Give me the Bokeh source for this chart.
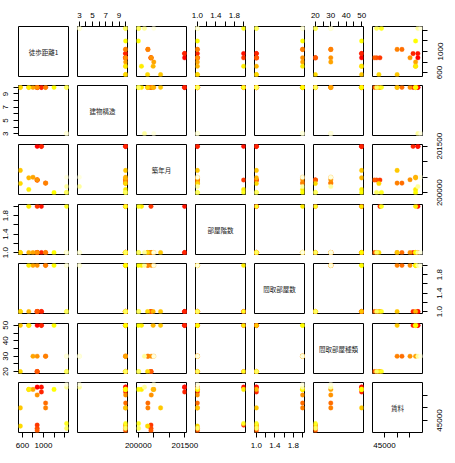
from bokeh.plotting import figure
from bokeh.layouts import gridplot, row, column
from bokeh.models import Range1d, LinearAxis, FixedTicker, PrintfTickFormatter, ColumnDataSource
from bokeh.core.properties import value
from bokeh.core.validation import silence
from bokeh.core.validation.warnings import MISSING_RENDERERS
from bokeh.embed import file_html
from bokeh.resources import INLINE

silence(MISSING_RENDERERS, True)

names = ["徒歩距離1", "建物構造", "築年月", "部屋階数", "間取部屋数", "間取部屋種類", "賃料"]

walk = [880, 960, 960, 880, 880, 880, 1040, 1040, 880, 800, 720, 560, 560, 720, 1200, 1440, 1440, 1440, 1440]
struct = [10, 10, 10, 10, 10, 10, 10, 10, 10, 10, 10, 10, 10, 10, 10, 10, 10, 3, 3]
built = [201495, 201495, 201495, 200410, 200410, 200410, 200310, 200310, 200420, 200500, 200480, 200720,
         200300, 200103, 200003, 200010, 200010, 200200, 200500]
floor_ = [1, 2, 1, 2, 1, 1, 1, 1, 1, 1, 1, 1, 1, 2, 1, 2, 1, 1, 1]
rooms = [1, 1, 1, 1, 1, 1, 2, 2, 2, 2, 1, 1, 1, 2, 2, 1, 1, 2, 2]
rtype = [50, 50, 50, 20, 20, 20, 30, 30, 30, 30, 50, 50, 20, 50, 50, 20, 20, 30, 30]
rent = [58200, 58200, 56300, 43200, 41900, 41000, 51900, 50000, 55100, 57300, 57300, 50000,
        42800, 57300, 57300, 43800, 41900, 58200, 59300]
colors = ["#FF0000", "#FF1200", "#FF2400", "#FF3700", "#FF4900", "#FF5B00", "#FF6D00", "#FF8000",
          "#FF9200", "#FFA400", "#FFB600", "#FFC800", "#FFDB00", "#FFED00", "#FFFF00", "#FFFF20",
          "#FFFF60", "#FFFF9F", "#FFFFDF"]

cols = [walk, struct, built, floor_, rooms, rtype, rent]

major_ticks = [[600, 1000], [3, 5, 7, 9], [200000, 201500], [1.0, 1.4, 1.8], [1.0, 1.4, 1.8],
               [20, 30, 40, 50], [45000]]
minor_ticks = [[800, 1200, 1400], [4, 6, 8, 10], [200500, 201000], [1.2, 1.6, 2.0], [1.2, 1.6, 2.0],
               [25, 35, 45], [50000, 55000]]
tick_formats = ["%d", "%d", "%d", "%.1f", "%.1f", "%d", "%d"]

n = len(names)
FRAME = 50
TICK = 5
FONT = "Liberation Sans"
FSIZE = "8px"

# main grid borders
row_top = [6, 1, 1, 1, 1, 1, 1]
row_bot = [8, 8, 9, 8, 9, 8, 6]
col_left = [6, 1, 1, 1, 1, 1, 1]
col_right = [8, 8, 8, 8, 8, 8, 6]


def rng(v):
    lo, hi = min(v), max(v)
    pad = 0.04 * (hi - lo)
    return lo - pad, hi + pad


def base_fig(w, h, xr, yr, bl, br, bt, bb):
    p = figure(width=w, height=h, x_range=xr, y_range=yr,
               output_backend="svg", toolbar_location=None,
               x_axis_location=None, y_axis_location=None,
               min_border_left=bl, min_border_right=br,
               min_border_top=bt, min_border_bottom=bb)
    p.grid.visible = False
    return p


def tick_axis(k):
    # tick marks only: the labels are drawn by the label strips around the grid
    ax = LinearAxis(ticker=FixedTicker(ticks=major_ticks[k], minor_ticks=minor_ticks[k]),
                    formatter=PrintfTickFormatter(format=tick_formats[k]))
    ax.axis_line_color = None
    ax.major_tick_in = 0
    ax.major_tick_out = TICK
    ax.minor_tick_in = 0
    ax.minor_tick_out = TICK
    ax.major_tick_line_color = "black"
    ax.minor_tick_line_color = "black"
    ax.major_label_text_color = None
    ax.major_label_text_font_size = "0px"
    ax.major_label_standoff = 0
    return ax


def label_strip(k, side, w, h, bl, br, bt, bb, standoff):
    lo, hi = rng(cols[k])
    if side == "left":
        xr, yr = Range1d(0, 1), Range1d(lo, hi)
    else:
        xr, yr = Range1d(lo, hi), Range1d(0, 1)
    p = base_fig(w, h, xr, yr, bl, br, bt, bb)
    p.outline_line_color = None
    p.background_fill_color = None
    p.border_fill_color = None
    ax = LinearAxis(ticker=FixedTicker(ticks=major_ticks[k], minor_ticks=[]),
                    formatter=PrintfTickFormatter(format=tick_formats[k]))
    ax.axis_line_color = None
    ax.major_tick_in = 0
    ax.major_tick_out = 0
    ax.minor_tick_in = 0
    ax.minor_tick_out = 0
    ax.major_label_text_font = FONT
    ax.major_label_text_font_size = FSIZE
    ax.major_label_text_color = "black"
    ax.major_label_standoff = standoff
    if side == "left":
        ax.major_label_orientation = "parallel"
    p.add_layout(ax, side)
    return p


src = ColumnDataSource(dict(walk=walk, struct=struct, built=built, floor_=floor_, rooms=rooms,
                            rtype=rtype, rent=rent, color=colors))
keys = ["walk", "struct", "built", "floor_", "rooms", "rtype", "rent"]

grid_rows = []
for i in range(n):
    r = []
    for j in range(n):
        xl, xh = rng(cols[j])
        yl, yh = rng(cols[i])
        p = base_fig(col_left[j] + FRAME + col_right[j], row_top[i] + FRAME + row_bot[i],
                     Range1d(xl, xh), Range1d(yl, yh),
                     col_left[j], col_right[j], row_top[i], row_bot[i])
        p.outline_line_color = "black"
        p.outline_line_width = 1
        p.background_fill_color = "white"
        p.border_fill_color = None
        if i == j:
            p.text(x=[(xl + xh) / 2], y=[(yl + yh) / 2], text=[names[i]],
                   text_align="center", text_baseline="middle",
                   text_font=value("Noto Sans CJK JP"), text_font_size="6.5px",
                   text_color="#222222")
        else:
            p.scatter(x=keys[j], y=keys[i], source=src, marker="circle", size=4.6,
                      fill_color="color", line_color="color", line_width=0.3)
        if i == 0 and j % 2 == 1:
            p.add_layout(tick_axis(j), "above")
        if i == n - 1 and j % 2 == 0:
            p.add_layout(tick_axis(j), "below")
        if j == 0 and i % 2 == 1:
            p.add_layout(tick_axis(i), "left")
        if j == n - 1 and i % 2 == 0:
            p.add_layout(tick_axis(i), "right")
        r.append(p)
    grid_rows.append(r)

grid = gridplot(grid_rows, toolbar_location=None)

# label strips: tick labels centred on the ticks of the outer panels
top_strip = row(
    label_strip(1, "above", 160, 20, 77, 33, 19, 0, 2),
    label_strip(3, "above", 120, 20, 35, 35, 19, 0, 2),
    label_strip(5, "above", 168, 20, 33, 85, 19, 0, 2),
)
bottom_strip = row(
    label_strip(0, "below", 100, 15, 18, 32, 0, 14, 3),
    label_strip(2, "below", 120, 15, 36, 34, 0, 14, 3),
    label_strip(4, "below", 120, 15, 34, 36, 0, 14, 3),
    label_strip(6, "below", 108, 15, 32, 26, 0, 14, 3),
)
left_strip = column(
    label_strip(1, "left", 12, 150, 11, 0, 65, 35, 3),
    label_strip(3, "left", 12, 120, 11, 0, 34, 36, 3),
    label_strip(5, "left", 12, 148, 11, 0, 33, 65, 3),
)
right_strip = column(
    label_strip(0, "left", 20, 90, 19, 0, 6, 34, 5),
    label_strip(2, "left", 20, 120, 19, 0, 34, 36, 5),
    label_strip(4, "left", 20, 120, 19, 0, 33, 37, 5),
    label_strip(6, "left", 20, 88, 19, 0, 32, 6, 5),
)

layout = column(top_strip, row(left_strip, grid, right_strip), bottom_strip)
open("out.html", "w").write(file_html(layout, INLINE))
